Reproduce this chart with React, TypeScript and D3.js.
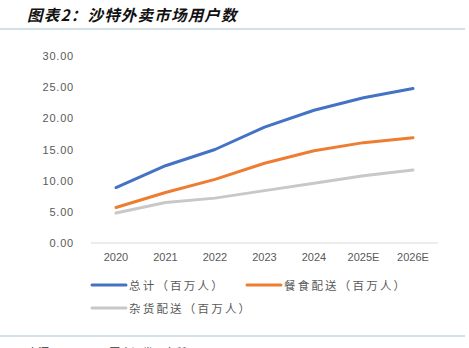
import React from "react";
import * as d3 from "d3";

const categories = ["2020", "2021", "2022", "2023", "2024", "2025E", "2026E"];
const totalUsers = [8.9, 12.4, 15.0, 18.6, 21.3, 23.3, 24.8];
const foodDelivery = [5.7, 8.1, 10.2, 12.8, 14.8, 16.1, 16.9];
const groceryDelivery = [4.8, 6.5, 7.2, 8.4, 9.6, 10.8, 11.7];
const yTicks = [0, 5, 10, 15, 20, 25, 30];
const seriesNames = ["总计（百万人）", "餐食配送（百万人）", "杂货配送（百万人）"];
const seriesColors = ["#4472C4", "#ED7D31", "#C8C8C8"];

export default function App() {
  const W = 469, H = 348;
  const x = d3.scalePoint<string>().domain(categories).range([116, 413]);
  const y = d3.scaleLinear().domain([0, 30]).range([243, 56]);
  const line = d3.line<number>()
    .x((_, i) => x(categories[i]) as number)
    .y((d) => y(d));
  const series = [totalUsers, foodDelivery, groceryDelivery];
  const numFont = "'Liberation Sans', Arial, sans-serif";
  const cjkFont = "'Noto Sans CJK SC', sans-serif";
  const legendPos = [
    { lx: 92, ly: 285 },
    { lx: 247, ly: 285 },
    { lx: 92, ly: 308 },
  ];
  return (
    <svg width={W} height={H} style={{ position: "absolute", left: 0, top: 0, background: "#fff" }}>
      <text x={27} y={21} fontFamily={cjkFont} fontSize={15.5} fontWeight="bold" fontStyle="italic" fill="#111" letterSpacing={1.2}>
        图表2：沙特外卖市场用户数
      </text>
      <line x1={0} x2={465} y1={29} y2={29} stroke="#A9C2D2" strokeWidth={1.2} />
      {yTicks.map((t) => (
        <text key={t} x={74} y={y(t) + 4} textAnchor="end" fontFamily={numFont} fontSize={11} fill="#595959" letterSpacing={0.8}>
          {t.toFixed(2)}
        </text>
      ))}
      <line x1={91} x2={438} y1={y(0)} y2={y(0)} stroke="#D9D9D9" strokeWidth={1} />
      {categories.map((c) => (
        <text key={c} x={x(c)} y={261} textAnchor="middle" fontFamily={numFont} fontSize={11} fill="#595959">
          {c}
        </text>
      ))}
      {series.map((s, i) => (
        <path key={i} d={line(s) || ""} fill="none" stroke={seriesColors[i]} strokeWidth={3} strokeLinecap="round" strokeLinejoin="round" />
      ))}
      {seriesNames.map((n, i) => (
        <g key={n}>
          <line x1={legendPos[i].lx} x2={legendPos[i].lx + 34} y1={legendPos[i].ly} y2={legendPos[i].ly} stroke={seriesColors[i]} strokeWidth={3} strokeLinecap="round" />
          <text x={legendPos[i].lx + 37} y={legendPos[i].ly + 4.5} fontFamily={cjkFont} fontSize={11.5} fill="#595959" letterSpacing={2.2}>
            {n}
          </text>
        </g>
      ))}
      <line x1={0} x2={465} y1={336} y2={336} stroke="#A9C2D2" strokeWidth={1.2} />
      <text x={27} y={357} fontFamily={cjkFont} fontSize={11} fill="#333">
        来源：Statista，国金证券研究所
      </text>
    </svg>
  );
}
